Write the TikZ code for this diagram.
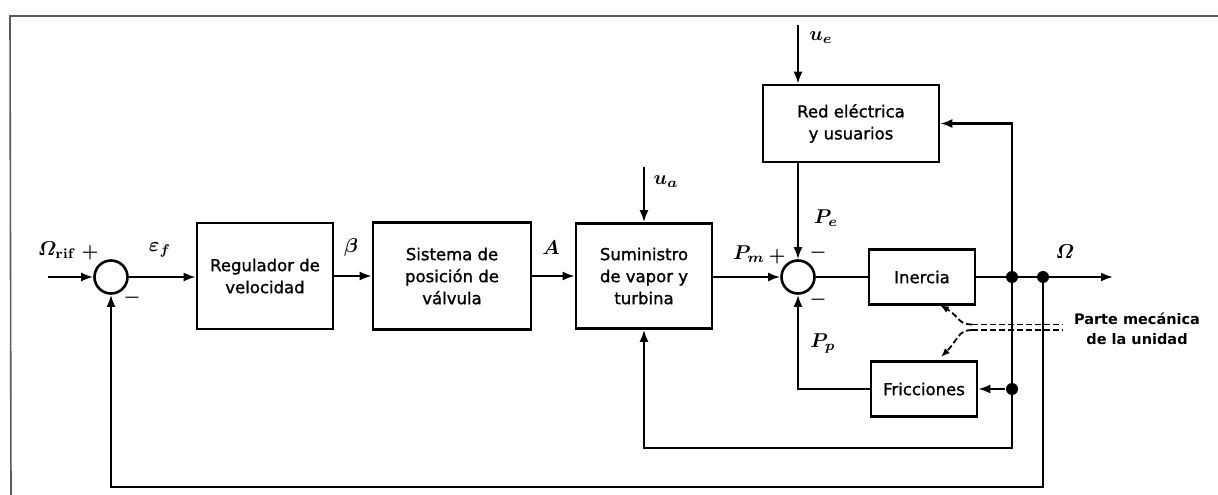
\documentclass[tikz,border=0pt]{standalone}
\usepackage{fontspec}
\newfontfamily\boxfont[FakeBold=1.2]{DejaVu Sans}
\newfontfamily\notefont{DejaVu Sans}
\usetikzlibrary{arrows.meta}
\newcommand{\itOmega}{\mathchar"010A}
\begin{document}
\begin{tikzpicture}[x=1pt,y=-1pt,
  line width=2.2pt,
  blk/.style={draw,line width=2.6pt,align=center,inner sep=0pt,font=\boxfont\fontsize{16.5}{22}\selectfont},
  sumj/.style={draw,circle,minimum size=33pt,inner sep=0pt,line width=2.6pt},
  lab/.style={scale=2.0,inner sep=0pt,font=\boldmath},
  sgn/.style={scale=1.9,font=\boldmath\bfseries,inner sep=0pt},
  arr/.style={-{Latex[length=12pt,width=9pt]}},
  dot/.style={circle,fill,minimum size=12pt,inner sep=0pt},
  dsh/.style={line width=1.8pt,dash pattern=on 6pt off 3pt},
  frame/.style={draw=black!65,line width=1.6pt}
]
\useasboundingbox (0,0) rectangle (1218,495);
% frame
\coordinate (fa) at (10,16); \coordinate (fb) at (1218,16); \coordinate (fc) at (11,495);
\draw[frame] (fb) -- (fa) -- (fc);

% nodes
\node[sumj] (s1) at (111,277) {};
\node[blk,minimum width=136pt,minimum height=106pt] (reg) at (265,276) {Regulador de\\velocidad};
\node[blk,minimum width=158pt,minimum height=107pt] (sis) at (452,276) {Sistema de\\posición de\\válvula};
\node[blk,minimum width=136pt,minimum height=105pt] (sum) at (644,276) {Suministro\\de vapor y\\turbina};
\node[sumj] (s2) at (798,277) {};
\node[blk,minimum width=176pt,minimum height=77pt] (red) at (851,123.5) {Red eléctrica\\y usuarios};
\node[blk,minimum width=106pt,minimum height=55pt] (ine) at (922,277) {Inercia};
\node[blk,minimum width=106pt,minimum height=55pt] (fri) at (924,389) {Fricciones};
\node[dot] (j1) at (1012,277) {};
\node[dot] (j2) at (1043,277) {};
\node[dot] (j3) at (1012,389) {};
\coordinate (in) at (48,277);
\coordinate (out) at (1113,277);
\coordinate (ue) at (798,25);
\coordinate (ua) at (644,167);
\coordinate (c3) at (644,448);
\coordinate (c5) at (111,487);

% connectors
\draw[arr] (in) -- (s1);
\draw[arr] (s1) -- (reg.west |- s1);
\draw[arr] (reg) -- (sis);
\draw[arr] (sis) -- (sum);
\draw[arr] (sum.east |- s2) -- (s2);
\draw[arr] (ue) -- (red.north -| ue);
\draw[arr] (red.south -| s2) -- (s2);
\draw[arr] (ua) -- (sum);
\draw (s2) -- (ine);
\draw (ine) -- (j1.center) -- (j2.center);
\draw[arr] (j2.center) -- (out);
\draw[arr] (j1.center) |- (red.east);
\draw (j1.center) -- (j3.center);
\draw[arr] (j3) -- (fri);
\draw[arr] (j3.center) |- (c3) -- (sum.south);
\draw[arr] (j2.center) |- (c5) -- (s1.south);
\draw[arr] (fri.west) -| (s2.south);

% labels
\node[lab] (lor) at (57,250) {$\itOmega_{\mathbf{rif}}$};
\node[sgn] (p1) at (90,253) {+};
\node[sgn] (m1) at (132,298) {$-$};
\node[lab] (lef) at (160,250) {$\varepsilon_f$};
\node[lab] (lb) at (351,247) {$\beta$};
\node[lab] (la) at (551,248) {$A$};
\node[lab] (lpm) at (749,254) {$P_m$};
\node[sgn] (p2) at (777,257) {+};
\node[lab] (lpe) at (826,218) {$P_e$};
\node[sgn] (m2) at (818,253) {$-$};
\node[sgn] (m3) at (818,300) {$-$};
\node[lab] (lpp) at (823,343) {$P_p$};
\node[lab] (lue) at (821,38) {$u_e$};
\node[lab] (lua) at (666,182) {$u_a$};
\node[lab] (lom) at (1065,252) {$\itOmega$};
\node[font=\notefont\bfseries\fontsize{14.5}{20}\selectfont,align=center,inner sep=0pt] (pm) at (1137,329) {Parte mecánica\\de la unidad};

% annotation
\coordinate (b1) at (972,324.5); \coordinate (b2) at (972,330);
\coordinate (e1) at (1063,324.5); \coordinate (e2) at (1063,330);
\coordinate (t1) at (940,305); \coordinate (t2) at (941,357);
\draw[dsh,-{Latex[length=9pt,width=7pt]}] (b1) .. controls (958,324.5) and (960,317) .. (t1);
\draw[dsh,-{Latex[length=9pt,width=7pt]}] (b2) .. controls (958,330) and (958,340) .. (t2);
\draw[dsh] (b1) -- (e1);
\draw[dsh] (b2) -- (e2);
\end{tikzpicture}
\end{document}
